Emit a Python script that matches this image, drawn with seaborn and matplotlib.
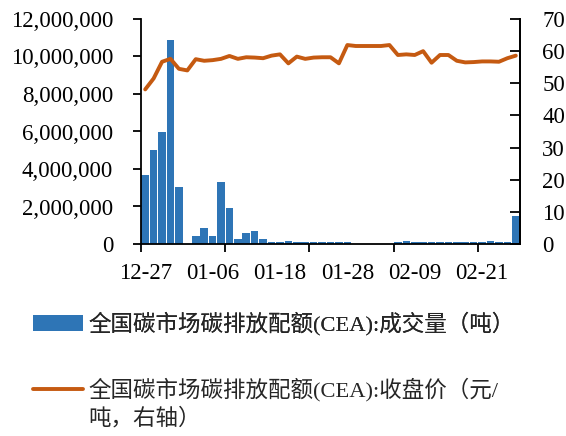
import numpy as np
import pandas as pd
import matplotlib
matplotlib.use("Agg")
import matplotlib.pyplot as plt
import seaborn as sns
from matplotlib.ticker import FuncFormatter, FixedLocator
from matplotlib.patches import Patch
from matplotlib.lines import Line2D

dates = ["12-27", "12-28", "12-29", "12-30", "12-31", "01-03", "01-04", "01-05", "01-06",
         "01-07", "01-10", "01-11", "01-12", "01-13", "01-14", "01-17", "01-18",
         "01-19", "01-20", "01-21", "01-24", "01-25", "01-26", "01-27", "01-28",
         "01-29", "01-30", "01-31", "02-01", "02-02", "02-07", "02-08", "02-09",
         "02-10", "02-11", "02-14", "02-15", "02-16", "02-17", "02-18", "02-21",
         "02-22", "02-23", "02-24", "02-25"]

volume = [3680000, 5000000, 5990000, 10880000, 3060000, 0, 430000, 840000, 430000,
          3290000, 1900000, 250000, 600000, 690000, 270000, 120000, 120000,
          160000, 120000, 120000, 120000, 120000, 110000, 110000, 110000,
          0, 0, 0, 0, 0, 110000, 170000, 110000,
          110000, 110000, 110000, 110000, 110000, 110000, 110000, 110000,
          170000, 110000, 110000, 1490000]

price = [48.1, 51.5, 56.7, 57.6, 54.5, 54.0, 57.5, 57.0, 57.2,
         57.6, 58.5, 57.6, 58.1, 58.0, 57.8, 58.6, 59.0,
         56.2, 58.3, 57.6, 58.0, 58.1, 58.1, 56.2, 61.9,
         61.6, 61.6, 61.6, 61.6, 61.9, 58.8, 59.0, 58.8,
         60.0, 56.4, 58.8, 58.8, 57.0, 56.5, 56.6, 56.8,
         56.8, 56.7, 57.8, 58.6]

label_vol = "全国碳市场碳排放配额(CEA):成交量（吨）"
label_price_1 = "全国碳市场碳排放配额(CEA):收盘价（元/"
label_price_2 = "吨，右轴）"

sns.set_theme(style="white")
plt.rcParams["font.family"] = ["Liberation Serif", "Noto Sans CJK SC", "DejaVu Sans"]

BLUE = "#2E75B6"
ORANGE = "#C55A11"

df = pd.DataFrame({"idx": np.arange(len(dates)), "date": dates,
                   "volume": volume, "price": price})

W, H = 566, 436
fig = plt.figure(figsize=(W / 100, H / 100), dpi=100)
ax = fig.add_axes([141 / W, 1 - 244 / H, (520 - 141) / W, (244 - 19) / H])

sns.barplot(data=df, x="idx", y="volume", color=BLUE, saturation=1,
            width=0.9, ax=ax, linewidth=0)
ax.set_xlim(-0.5, len(dates) - 0.5)
ax.set_ylim(0, 12000000)
ax.set_yticks(np.arange(0, 12000001, 2000000))
ax.yaxis.set_major_formatter(FuncFormatter(lambda v, p: f"{int(v):,}"))

label_pos = list(range(0, len(dates), 8))
ax.xaxis.set_major_locator(FixedLocator(label_pos))
ax.set_xticklabels([dates[i] for i in label_pos])
ax.xaxis.set_minor_locator(FixedLocator([-0.5 + 10 * k for k in range(5)]))
ax.tick_params(axis="x", which="major", length=0, pad=13.5, labelsize=16.5, colors="black")
ax.tick_params(axis="x", which="minor", bottom=True, length=6, width=1.3, direction="out", color="black")
ax.tick_params(axis="y", left=True, length=6, width=1.3, direction="out", pad=14,
               labelsize=16.5, colors="black")
ax.set_xlabel("")
ax.set_ylabel("")

ax2 = ax.twinx()
sns.lineplot(data=df, x="idx", y="price", color=ORANGE, linewidth=2.8, ax=ax2,
             solid_joinstyle="round", solid_capstyle="round")
ax2.set_xlim(-0.5, len(dates) - 0.5)
ax2.set_ylim(0, 70)
ax2.set_yticks(np.arange(0, 71, 10))
ax2.tick_params(axis="y", right=True, length=7, width=1.3, direction="in", pad=16,
                labelsize=16.5, colors="black")
ax2.set_ylabel("")
ax2.set_xlabel("")

for a in (ax, ax2):
    a.spines["top"].set_visible(False)
    for s in ("left", "right", "bottom"):
        a.spines[s].set_color("black")
        a.spines[s].set_linewidth(1.3)
ax2.spines["left"].set_visible(False)
ax2.spines["bottom"].set_visible(False)

fs = 16.2
fpx = fs * 100 / 72
leg1 = fig.legend(handles=[Patch(facecolor=BLUE, edgecolor="none")], labels=[label_vol],
                  loc="center left", bbox_to_anchor=(33 / W, 1 - 324 / H),
                  frameon=False, fontsize=fs, borderpad=0, borderaxespad=0,
                  handlelength=50 / fpx, handleheight=0.7, handletextpad=5 / fpx)
leg2 = fig.legend(handles=[Line2D([], [], color=ORANGE, linewidth=2.8)], labels=[label_price_1],
                  loc="center left", bbox_to_anchor=(33 / W, 1 - 390 / H),
                  frameon=False, fontsize=fs, borderpad=0, borderaxespad=0,
                  handlelength=50 / fpx, handletextpad=5 / fpx)
fig.add_artist(leg1)
fig.text(88 / W, 1 - 419 / H, label_price_2, fontsize=fs, va="center", ha="left")

fig.savefig("out.png", dpi=100)
